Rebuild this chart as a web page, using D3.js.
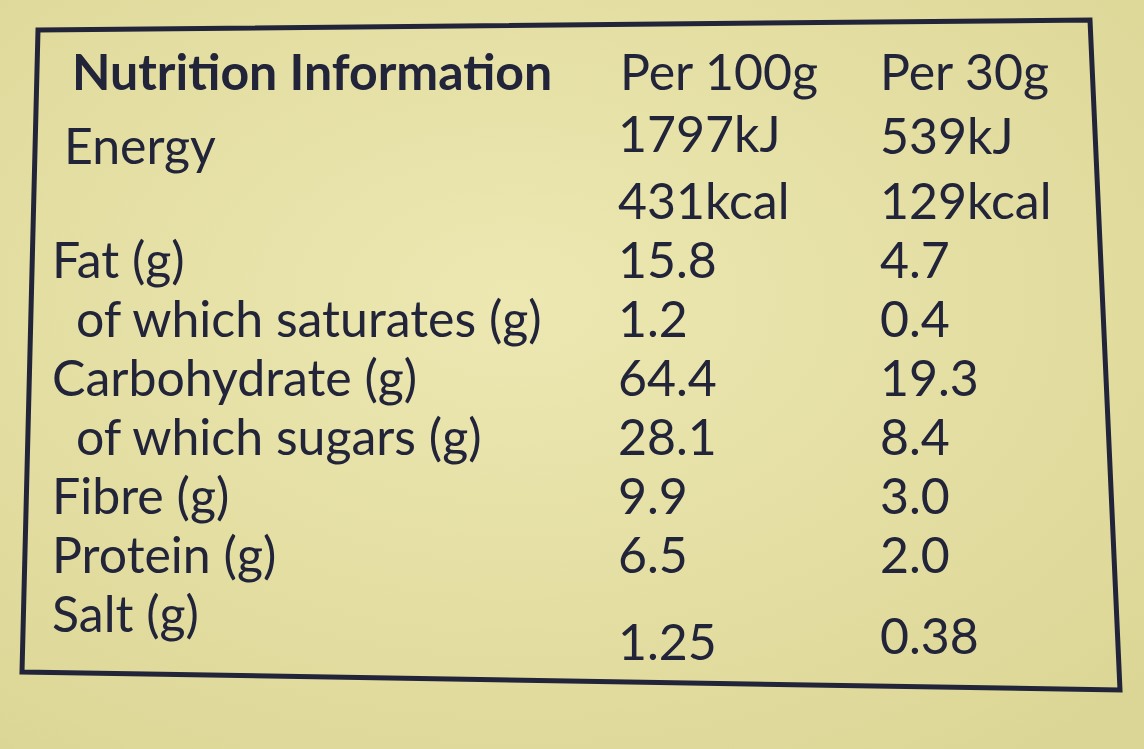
<!DOCTYPE html>
<html><head><meta charset="utf-8">
<script src="https://cdn.jsdelivr.net/npm/d3@7"></script>
<style>body{margin:0;background:#e6e0a4}</style>
</head><body>
<svg width="1144" height="749"></svg>
<script>
const svg = d3.select('svg')
const width = +svg.attr('width');
const height = +svg.attr('height');

// table data
const nutrients = ['Energy', '', 'Fat (g)', 'of which saturates (g)', 'Carbohydrate (g)',
  'of which sugars (g)', 'Fibre (g)', 'Protein (g)', 'Salt (g)'];
const indent = [false, false, false, true, false, true, false, false, false];
const per100 = ['1797kJ', '431kcal', '15.8', '1.2', '64.4', '28.1', '9.9', '6.5', '1.25'];
const per30 = ['539kJ', '129kcal', '4.7', '0.4', '19.3', '8.4', '3.0', '2.0', '0.38'];
const headers = ['Nutrition Information', 'Per 100g', 'Per 30g'];

const ink = '#22243a';
const font = 'Lato, "Open Sans", sans-serif';

// background with soft shading
const grad = svg.append('defs').append('radialGradient').attr('id', 'bg')
  .attr('cx', '45%').attr('cy', '40%').attr('r', '75%');
grad.append('stop').attr('offset', '0%').attr('stop-color', '#ede8b2');
grad.append('stop').attr('offset', '100%').attr('stop-color', '#dcd696');
svg.append('rect').attr('width', width).attr('height', height).attr('fill', 'url(#bg)');

// border (slightly skewed like the photo)
svg.append('path')
  .attr('d', 'M38,30 L1090,20 L1120,690 L22,672 Z')
  .attr('fill', 'none').attr('stroke', ink).attr('stroke-width', 5);

const y = d3.scalePoint().domain(d3.range(nutrients.length)).range([160, 632]);
const x = d3.scaleOrdinal().domain(['label', 'p100', 'p30']).range([52, 618, 878]);

const g = svg.append('g').attr('fill', ink).style('font-family', font).style('font-size', '50px');

g.selectAll('text.head').data(headers).join('text').attr('class', 'head')
  .attr('x', (d, i) => x(['label', 'p100', 'p30'][i]) + (i === 0 ? 20 : 2))
  .attr('y', 90)
  .attr('font-weight', (d, i) => i === 0 ? 700 : 400)
  .text(d => d);

g.selectAll('text.lab').data(nutrients).join('text').attr('class', 'lab')
  .attr('x', (d, i) => x('label') + (indent[i] ? 24 : 0) + (i === 0 ? 12 : 0))
  .attr('y', (d, i) => y(i) + (i === 0 ? 4 : 0))
  .text(d => d);

g.selectAll('text.p100').data(per100).join('text').attr('class', 'p100')
  .attr('x', x('p100')).attr('y', (d, i) => y(i) - (i === 0 ? 8 : 0) + (i === 8 ? 28 : 0))
  .text(d => d);

g.selectAll('text.p30').data(per30).join('text').attr('class', 'p30')
  .attr('x', x('p30') + 2).attr('y', (d, i) => y(i) - (i === 0 ? 6 : 0) + (i === 8 ? 22 : 0))
  .text(d => d);
</script>
</body></html>
